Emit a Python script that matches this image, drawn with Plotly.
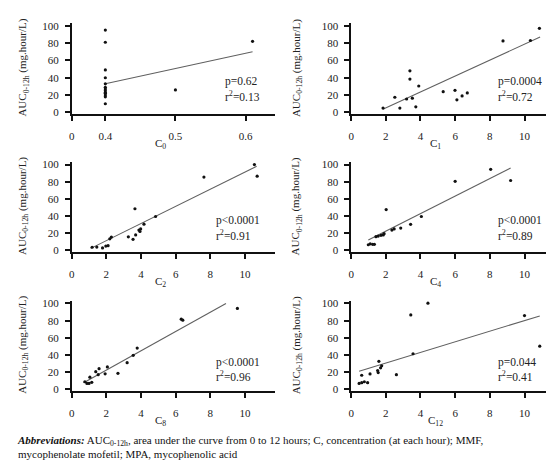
import plotly.graph_objects as go

# ---------------- data ----------------
# Panel C0 (broken x axis: 0 | 0.4 .. 0.6)
c0_x = [0.4]*13 + [0.5, 0.61]
c0_y = [95, 81, 49, 40, 33, 29, 27, 25, 23, 22, 20, 18, 10, 26, 82]
c0_fit_x = [0.4, 0.61]
c0_fit_y = [33, 70]

c1_x = [1.84, 2.52, 2.81, 3.2, 3.39, 3.39, 3.53, 3.73, 3.9, 5.31, 5.99, 6.1, 6.4, 6.7, 8.76, 10.34, 10.86]
c1_y = [5, 17.5, 5, 15.5, 48, 38.5, 16.5, 6.5, 30.5, 24, 25.5, 14.5, 19, 22.5, 82.5, 83, 97]
c1_fit_x = [1.86, 10.9]
c1_fit_y = [4, 87]

c2_x = [1.18, 1.45, 1.78, 1.97, 2.1, 2.2, 2.29, 3.27, 3.54, 3.65, 3.69, 3.88, 3.94, 3.98, 4.17, 4.84, 7.63, 10.54, 10.7]
c2_y = [3.6, 3.8, 2.8, 5, 5.5, 13.4, 15.5, 15.8, 12.8, 48.5, 18, 23.7, 22, 25, 30.5, 39.5, 85.5, 100, 86.5]
c2_fit_x = [1.1, 10.67]
c2_fit_y = [2.3, 98]

c4_x = [0.99, 1.1, 1.24, 1.34, 1.43, 1.56, 1.72, 1.85, 1.9, 2.02, 2.35, 2.48, 2.86, 3.43, 4.05, 6.0, 8.05, 9.2]
c4_y = [6.5, 7.6, 7, 7, 16, 16.7, 17.5, 18, 19.5, 47.5, 23.6, 25, 26, 30.4, 39.5, 80.5, 94.5, 81.5]
c4_fit_x = [0.99, 9.2]
c4_fit_y = [12, 96]

c8_x = [0.76, 0.88, 1.0, 1.16, 1.05, 1.39, 1.53, 1.58, 1.93, 2.06, 2.67, 3.2, 3.55, 3.78, 6.32, 6.41, 9.56]
c8_y = [8.7, 6.8, 6.8, 8, 14, 20.5, 17, 24, 18, 26, 18.6, 31, 39.5, 48, 81.7, 80.6, 94.3]
c8_fit_x = [0.69, 8.9]
c8_fit_y = [7.6, 100]

c12_x = [0.46, 0.61, 0.76, 0.95, 0.61, 1.09, 1.53, 1.56, 1.6, 1.7, 1.76, 2.61, 3.44, 3.57, 4.43, 10.0, 10.88]
c12_y = [6.8, 7.6, 8.7, 7.6, 16.3, 17.9, 21.7, 19.4, 32.5, 25, 27.4, 17, 86.7, 41.4, 100.4, 85.9, 50.2]
c12_fit_x = [0.46, 10.88]
c12_fit_y = [21, 85.5]

panel_titles = ["C<sub>0</sub>", "C<sub>1</sub>", "C<sub>2</sub>", "C<sub>4</sub>", "C<sub>8</sub>", "C<sub>12</sub>"]
p_texts = ["p=0.62", "p=0.0004", "p<0.0001", "p<0.0001", "p<0.0001", "p=0.044"]
r2_texts = ["0.13", "0.72", "0.91", "0.89", "0.96", "0.41"]
y_ticks = [0, 20, 40, 60, 80, 100]
x_ticks = [0, 2, 4, 6, 8, 10]
c0_ticks = [0, 0.4, 0.5, 0.6]
y_title = "AUC<sub>0-12h</sub> (mg.hour/L)"
caption = ("<b><i>Abbreviations:</i></b> AUC<sub>0-12h</sub>, area under the curve from 0 to 12 hours; "
           "C, concentration (at each hour); MMF,<br>mycophenolate mofetil; MPA, mycophenolic acid")

# ---------------- layout helpers ----------------
W, H = 554, 466
FONT = "Liberation Serif"
cols_px = [(61, 265), (342, 549)]
rows_px = [(12, 105), (153, 245), (294, 386)]
GAP0 = 0.048  # width of the broken gap (0 .. 0.4) on the C0 axis


def c0_t(v):
    return 0.0 if v == 0 else GAP0 + (v - 0.4)


def px_x(p):
    return p / W


def px_y(p):
    return 1 - p / H


series = [
    ([c0_t(v) for v in c0_x], c0_y, [c0_t(v) for v in c0_fit_x], c0_fit_y),
    (c1_x, c1_y, c1_fit_x, c1_fit_y),
    (c2_x, c2_y, c2_fit_x, c2_fit_y),
    (c4_x, c4_y, c4_fit_x, c4_fit_y),
    (c8_x, c8_y, c8_fit_x, c8_fit_y),
    (c12_x, c12_y, c12_fit_x, c12_fit_y),
]

fig = go.Figure()
annotations = []
layout_axes = {}
for i, (sx, sy, fx, fy) in enumerate(series):
    r, c = divmod(i, 2)
    n = "" if i == 0 else str(i + 1)
    xa, ya = "x" + n, "y" + n
    fig.add_trace(go.Scatter(x=fx, y=fy, mode="lines", xaxis=xa, yaxis=ya,
                             line=dict(color="#606060", width=1.1), showlegend=False))
    fig.add_trace(go.Scatter(x=sx, y=sy, mode="markers", xaxis=xa, yaxis=ya,
                             marker=dict(color="#111", size=3.2, line=dict(width=0)),
                             showlegend=False))
    x0, x1 = cols_px[c]
    y0, y1 = rows_px[r]
    xr = (x1 - x0) / 17.43
    if i == 0:
        xaxis = dict(range=[0, (x1 - x0) / 705.0], tickvals=[c0_t(v) for v in c0_ticks],
                     ticktext=[("%g" % v) for v in c0_ticks])
    else:
        xaxis = dict(range=[0, xr], tickvals=x_ticks)
    xaxis.update(domain=[px_x(x0), px_x(x1)], anchor=ya, showline=True, linecolor="#111",
                 linewidth=1.6, ticks="outside", ticklen=5, tickwidth=1.6, tickcolor="#111",
                 showgrid=False, zeroline=False, ticklabelstandoff=6,
                 tickfont=dict(family=FONT, size=11, color="#222"))
    yaxis = dict(domain=[px_y(y1), px_y(y0)], anchor=xa, range=[-2.3, 103.4], tickvals=y_ticks,
                 showline=True, linecolor="#111", linewidth=1.6, ticks="outside", ticklen=5,
                 tickwidth=1.6, tickcolor="#111", showgrid=False, zeroline=False,
                 ticklabelstandoff=4, tickfont=dict(family=FONT, size=11, color="#222"))
    layout_axes["xaxis" + n] = xaxis
    layout_axes["yaxis" + n] = yaxis

    # axis titles
    annotations.append(dict(text=panel_titles[i], xref="paper", yref="paper",
                            x=px_x(150 if c == 0 else 427), y=px_y(y1 + 30),
                            showarrow=False, xanchor="center", yanchor="middle",
                            font=dict(family=FONT, size=11, color="#222")))
    annotations.append(dict(text=y_title, xref="paper", yref="paper",
                            x=px_x(12 if c == 0 else 287), y=px_y((y0 + y1) / 2 - 1),
                            textangle=-90, showarrow=False, xanchor="center", yanchor="middle",
                            font=dict(family=FONT, size=11, color="#222")))
    # statistics
    tx = [213, 488, 204, 488, 204, 488][i]
    ty = [72, 213, 357][r]
    annotations.append(dict(text=p_texts[i], xref="paper", yref="paper",
                            x=px_x(tx), y=px_y(ty), showarrow=False, xanchor="left",
                            yanchor="middle", font=dict(family=FONT, size=11.5, color="#222")))
    annotations.append(dict(text="r<sup>2</sup>=" + r2_texts[i], xref="paper", yref="paper",
                            x=px_x(tx), y=px_y(ty + 14), showarrow=False, xanchor="left",
                            yanchor="middle", font=dict(family=FONT, size=11.5, color="#222")))

annotations.append(dict(text=caption, xref="paper", yref="paper", x=px_x(4), y=px_y(427),
                        showarrow=False, xanchor="left", yanchor="top", align="left",
                        font=dict(family=FONT, size=11, color="#111")))

fig.update_layout(width=W, height=H, margin=dict(l=0, r=0, t=0, b=0),
                  paper_bgcolor="white", plot_bgcolor="white",
                  annotations=annotations, **layout_axes)
fig.write_html("out.html")
